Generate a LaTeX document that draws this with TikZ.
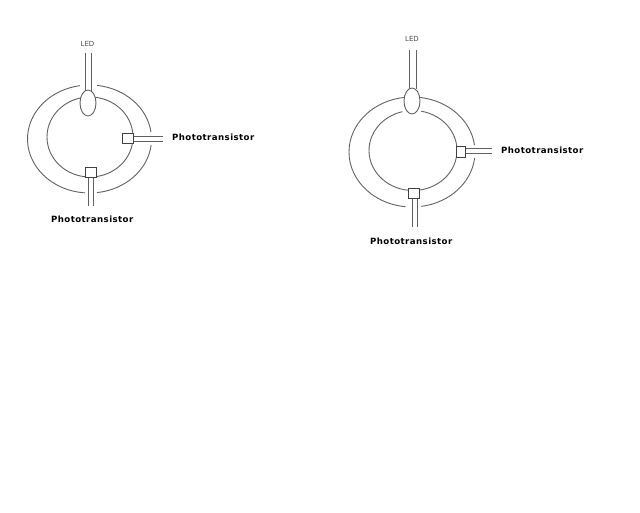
\documentclass[tikz,border=0pt]{standalone}
\usepackage{fontspec}
\setmainfont{DejaVu Sans}
\usetikzlibrary{shapes.geometric}
\tikzset{
    wire/.style = {line width = .9pt, black!62},
    ring/.style = {line width = .9pt, black!62},
    ledbulb/.style = {ellipse, draw = black!62, line width = .9pt, fill = white, inner sep = 0pt, minimum width = 16pt, minimum height = 26pt},
    sensor/.style = {rectangle, draw = black!75, line width = .9pt, fill = white, inner sep = 0pt, minimum width = 10.5pt, minimum height = 10.5pt},
    ledtext/.style = {inner sep = 0pt, black!70, font = \fontsize{7}{8}\selectfont},
    phototext/.style = {inner sep = 0pt, font = \fontsize{8.6}{10}\bfseries\addfontfeature{LetterSpace=5}}
}
\begin{document}
\begin{tikzpicture}[x=1pt,y=1pt]
    \useasboundingbox (0,0) rectangle (640,512);
    \coordinate (OL) at (89.5,373);
    \coordinate (IL) at (90,375);
    \coordinate (OR) at (412,360);
    \coordinate (IR) at (413,361.5);
    \draw[ring] ([shift={(83:62 and 54)}]OL) arc (83:7.5:62 and 54);
    \draw[ring] ([shift={(-6.4:62 and 54)}]OL) arc (-6.4:-83:62 and 54);
    \draw[ring] ([shift={(-94:62 and 54)}]OL) arc (-94:-261.2:62 and 54);
    \draw[ring] (IL) ellipse (43 and 40);
    \draw[ring] ([shift={(82.5:63 and 55)}]OR) arc (82.5:7.3:63 and 55);
    \draw[ring] ([shift={(-6.3:63 and 55)}]OR) arc (-6.3:-81.5:63 and 55);
    \draw[ring] ([shift={(-96:63 and 55)}]OR) arc (-96:-263:63 and 55);
    \draw[ring] ([shift={(79.5:44 and 40)}]IR) arc (79.5:-256:44 and 40);
    \node[ledbulb] (ledL) at (88,409) {};
    \node[sensor] (sideL) at (128,373.5) {};
    \node[sensor] (downL) at (91,339.5) {};
    \node[ledbulb] (ledR) at (412,411) {};
    \node[sensor, minimum width = 8.5pt] (sideR) at (461,360) {};
    \node[sensor, minimum width = 11.5pt, minimum height = 9.5pt] (downR) at (414,318.5) {};
    \coordinate (la1) at (85,459);
    \coordinate (la2) at (91.5,459);
    \coordinate (sa1) at (163,376);
    \coordinate (sa2) at (163,371);
    \coordinate (da1) at (88,306);
    \coordinate (da2) at (93,306);
    \coordinate (lb1) at (409,462);
    \coordinate (lb2) at (416,462);
    \coordinate (sb1) at (492,364);
    \coordinate (sb2) at (492,359);
    \coordinate (db1) at (412,285);
    \coordinate (db2) at (417,285);
    \draw[wire] (la1) -- (la1 |- ledL.110);
    \draw[wire] (la2) -- (la2 |- ledL.70);
    \draw[wire] (sa1) -- (sa1 -| sideL.east);
    \draw[wire] (sa2) -- (sa2 -| sideL.east);
    \draw[wire] (da1) -- (da1 |- downL.south);
    \draw[wire] (da2) -- (da2 |- downL.south);
    \draw[wire] (lb1) -- (lb1 |- ledR.110);
    \draw[wire] (lb2) -- (lb2 |- ledR.70);
    \draw[wire] (sb1) -- (sb1 -| sideR.east);
    \draw[wire] (sb2) -- (sb2 -| sideR.east);
    \draw[wire] (db1) -- (db1 |- downR.south);
    \draw[wire] (db2) -- (db2 |- downR.south);
    \node[ledtext] (ledtextL) at (87.5,468) {LED};
    \node[ledtext] (ledtextR) at (412,473) {LED};
    \node[phototext, anchor = west] (sidetextL) at (172,374.5) {Phototransistor};
    \node[phototext, anchor = west] (downtextL) at (51,292.5) {Phototransistor};
    \node[phototext, anchor = west] (sidetextR) at (501,361.5) {Phototransistor};
    \node[phototext, anchor = west] (downtextR) at (370,270.5) {Phototransistor};
\end{tikzpicture}
\end{document}
